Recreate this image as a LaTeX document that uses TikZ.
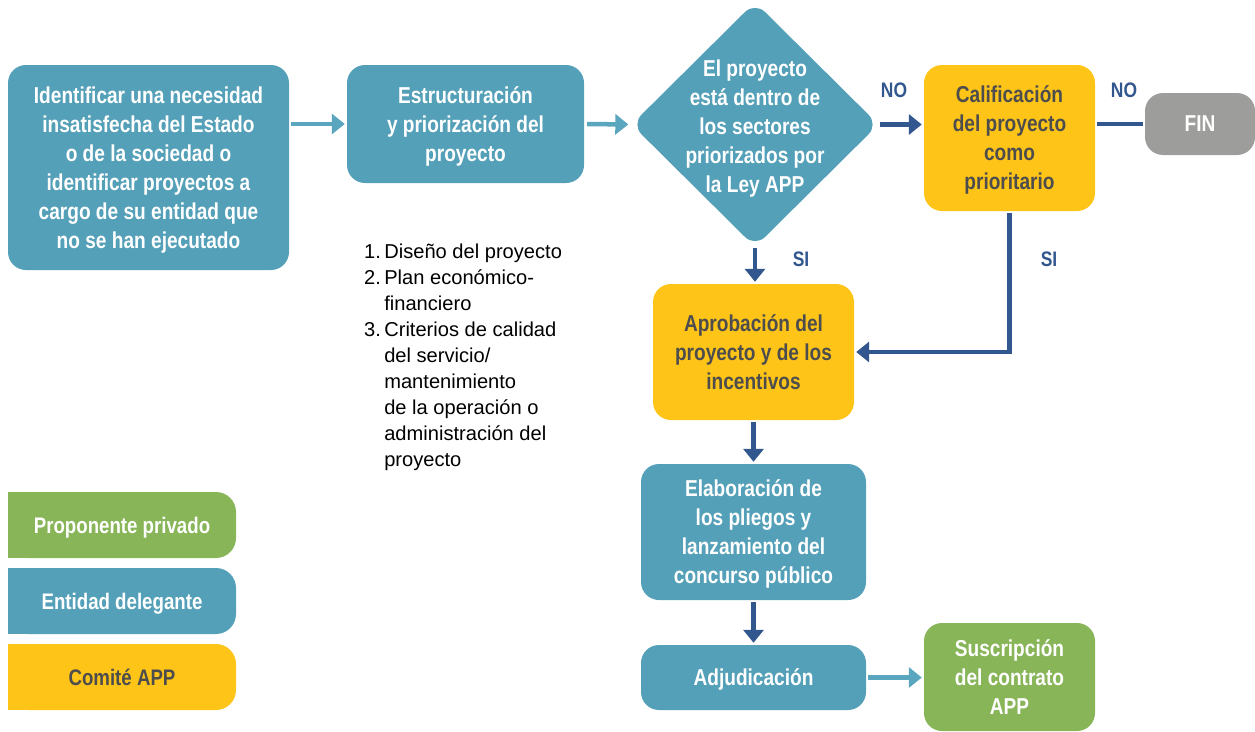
\documentclass[tikz,border=0pt]{standalone}
\usepackage{fontspec}
\setmainfont{Liberation Sans}[FakeStretch=0.83]
\newfontfamily\listfont{Liberation Sans}
\usetikzlibrary{shapes.geometric,arrows.meta}
\definecolor{teal}{HTML}{54A0B8}
\definecolor{yel}{HTML}{FEC418}
\definecolor{grn}{HTML}{87B558}
\definecolor{gry}{HTML}{9D9D9C}
\definecolor{dblue}{HTML}{32578F}
\definecolor{lteal}{HTML}{5AA6BF}
\definecolor{dtext}{HTML}{4D4D4D}
\tikzset{
  box/.style={rounded corners=18pt, inner sep=0pt, align=center, text depth=0pt,
    font=\bfseries\fontsize{23}{29}\selectfont},
  tealbox/.style={box, fill=teal, text=white},
  yelbox/.style={box, fill=yel, text=dtext},
  grnbox/.style={box, fill=grn, text=white},
  dark/.style={draw=dblue, line width=4.5pt, -{Triangle[length=13pt,width=20pt]}},
  light/.style={draw=lteal, line width=4.5pt, -{Triangle[length=13pt,width=20pt]}},
  lab/.style={text=dblue, font=\bfseries\fontsize{21}{24}\selectfont},
  leg/.style={rounded corners=20pt, inner sep=0pt, align=center, text depth=0pt,
    minimum width=228pt, minimum height=66pt, font=\bfseries\fontsize{22.5}{24}\selectfont}
}
\begin{document}
\begin{tikzpicture}[x=1pt,y=-1pt]
\useasboundingbox (0,0) rectangle (1255,731);
% boxes
\node[tealbox, minimum width=281pt, minimum height=205pt] (b1) at (148.5,167.5)
  {Identificar una necesidad\\insatisfecha del Estado\\o de la sociedad o\\identificar proyectos a\\cargo de su entidad que\\no se han ejecutado};
\node[tealbox, minimum width=237pt, minimum height=118pt] (b2) at (465.5,124)
  {Estructuración\\y priorización del\\proyecto};
\node[diamond, fill=teal, rounded corners=14pt, minimum width=247pt, minimum height=245pt, inner sep=0pt] (d) at (755,124.5) {};
\node[box, text=white] (dt) at (755,126.5) {El proyecto\\está dentro de\\los sectores\\priorizados por\\la Ley APP};
\node[yelbox, minimum width=171pt, minimum height=146pt] (cal) at (1009.5,138)
  {Calificación\\del proyecto\\como\\prioritario};
\node[box, fill=gry, text=white, minimum width=110pt, minimum height=62pt] (fin) at (1200,124) {FIN};
\node[yelbox, minimum width=201pt, minimum height=136pt] (apr) at (753.5,352)
  {Aprobación del\\proyecto y de los\\incentivos};
\node[tealbox, minimum width=225pt, minimum height=136pt] (elab) at (753.5,532)
  {Elaboración de\\los pliegos y\\lanzamiento del\\concurso público};
\node[tealbox, minimum width=225pt, minimum height=65pt] (adj) at (753.5,677.5) {Adjudicación};
\node[grnbox, minimum width=171pt, minimum height=108pt] (sus) at (1009.5,677)
  {Suscripción\\del contrato\\APP};
% list
\node[anchor=north west, inner sep=0pt, font=\listfont\fontsize{20.1}{26}\selectfont, text=black] (list) at (364,240)
  {\begin{tabular}{@{}r@{\,}l@{}}
   1. & Diseño del proyecto\\
   2. & Plan económico-\\
      & financiero\\
   3. & Criterios de calidad\\
      & del servicio/\\
      & mantenimiento\\
      & de la operación o\\
      & administración del\\
      & proyecto
  \end{tabular}};
% legend
\fill[grn] (8,492) rectangle (100,558);
\node[leg, fill=grn, text=white] (l1) at (122,525) {Proponente privado};
\fill[teal] (8,568) rectangle (100,634);
\node[leg, fill=teal, text=white] (l2) at (122,601) {Entidad delegante};
\fill[yel] (8,644) rectangle (100,710);
\node[leg, fill=yel, text=dtext] (l3) at (122,677) {Comité APP};
% connectors
\draw[light, shorten <=2pt, shorten >=2pt] (b1.east |- b2.west) -- (b2.west);
\draw[light, shorten <=3pt, shorten >=3pt] (b2.east) -- (d.west);
\draw[dark, shorten <=1pt, shorten >=2pt] (d.east) -- (cal.west |- d.east);
\draw[draw=dblue, line width=4.5pt, shorten <=2pt, shorten >=2pt] (cal.east |- fin.west) -- (fin.west);
\draw[dark, shorten <=1pt, shorten >=2pt] (d.south) -- (d.south |- apr.north);
\draw[dark, shorten <=2pt, shorten >=2pt] (cal.south) |- (apr.east);
\draw[dark, shorten <=2pt, shorten >=2pt] (apr.south) -- (elab.north);
\draw[dark, shorten <=2pt, shorten >=2pt] (elab.south) -- (adj.north);
\draw[light, shorten <=2pt, shorten >=2pt] (adj.east) -- (sus.west |- adj.east);
% labels
\node[lab] (no1) at (894,90) {NO};
\node[lab] (no2) at (1124,90) {NO};
\node[lab] (si1) at (801,259) {SI};
\node[lab] (si2) at (1049,259) {SI};
\end{tikzpicture}
\end{document}
